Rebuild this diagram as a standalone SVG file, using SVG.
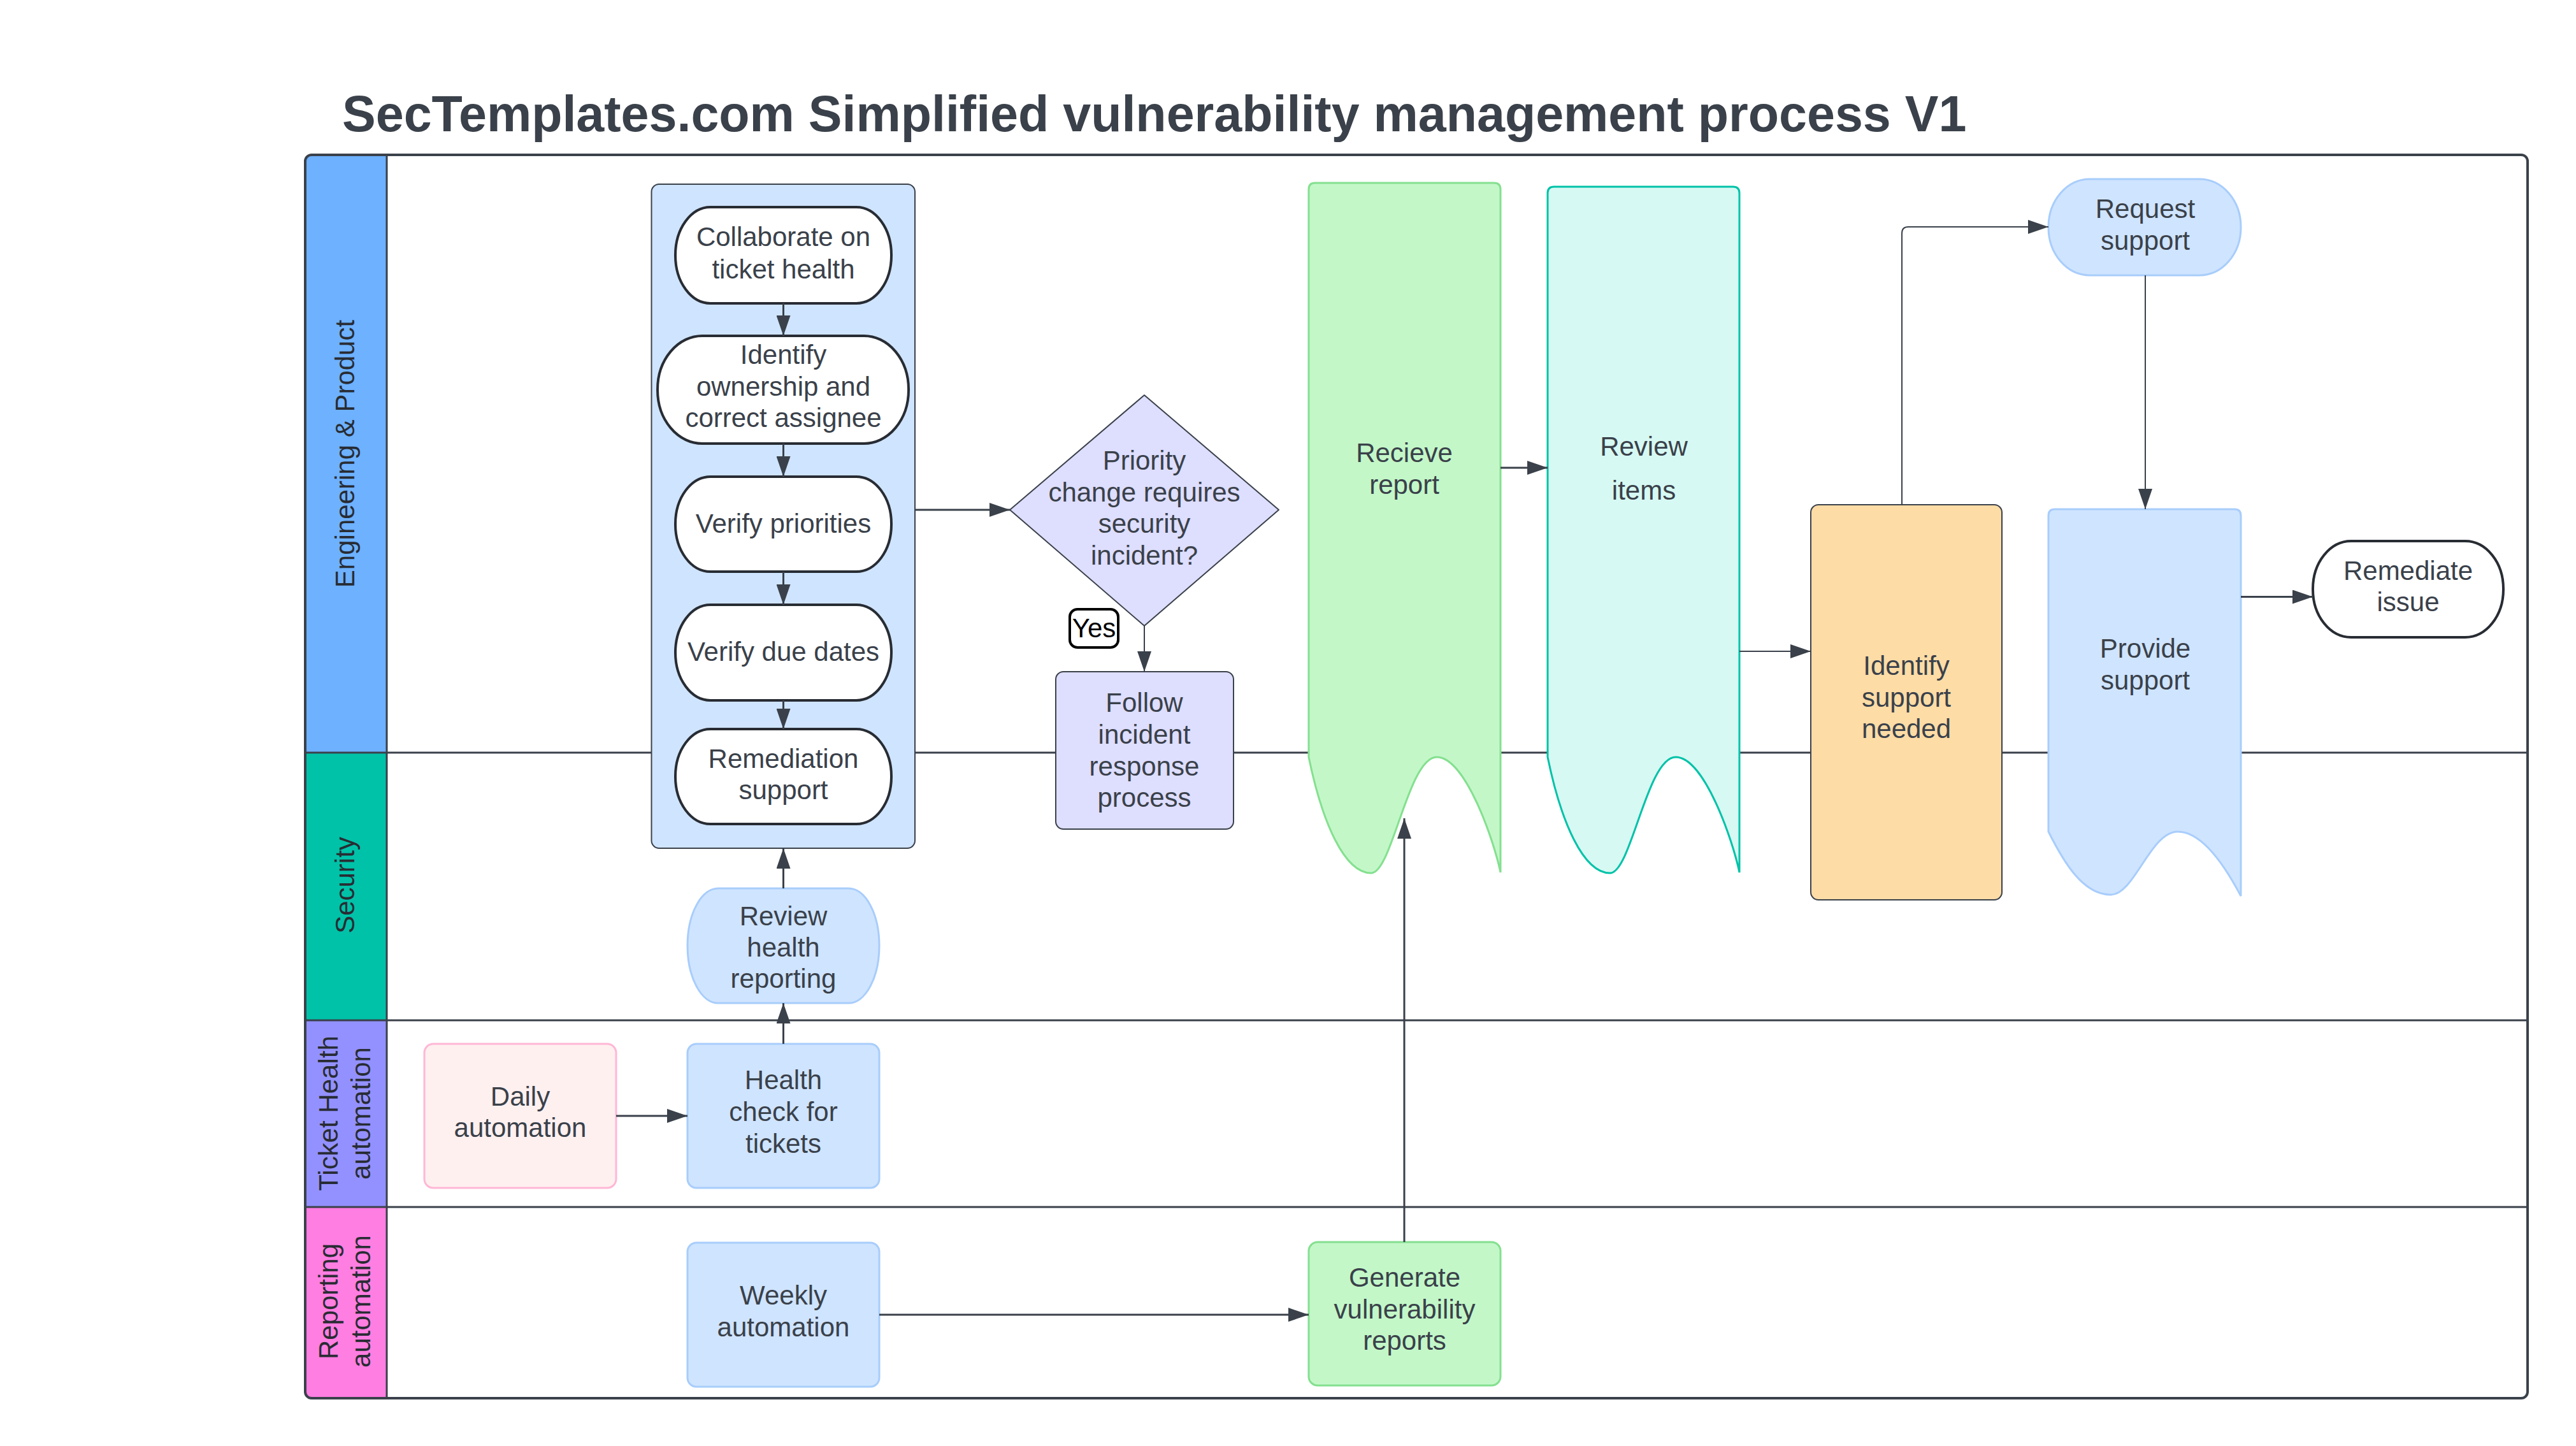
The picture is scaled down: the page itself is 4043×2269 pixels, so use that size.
<svg xmlns="http://www.w3.org/2000/svg" width="4043" height="2269" viewBox="0 0 4043 2269">
<style>
.t{font-family:"Liberation Sans",Arial,sans-serif;font-size:42px;fill:#3a414a;text-anchor:middle}
.lane{font-family:"Liberation Sans",Arial,sans-serif;font-size:42px;fill:#282c33;text-anchor:middle}
.title{font-family:"Liberation Sans",Arial,sans-serif;font-size:79px;font-weight:bold;fill:#3a414a}
.c{fill:none;stroke:#3a414a;stroke-width:3}
.ct{fill:none;stroke:#3a414a;stroke-width:2}
.pill{fill:#ffffff;stroke:#282c33;stroke-width:4}
.lb{fill:#cfe4ff;stroke:#a8cdfb;stroke-width:3}
.sep{stroke:#3a414a;stroke-width:3}
</style>
<defs>
<marker id="ah" markerUnits="userSpaceOnUse" markerWidth="32" markerHeight="22" refX="32" refY="11" orient="auto">
<path d="M0,0 L32,11 L0,22 Z" fill="#3a414a"/>
</marker>
<clipPath id="poolclip"><rect x="479" y="243" width="3488" height="1951" rx="10"/></clipPath>
</defs>
<rect width="4043" height="2269" fill="#ffffff"/>
<text class="title" x="537" y="206">SecTemplates.com Simplified vulnerability management process V1</text>

<g id="pool">
<g clip-path="url(#poolclip)">
<rect x="479" y="243" width="128" height="938" fill="#6db1ff"/>
<rect x="479" y="1181" width="128" height="420" fill="#00c2a8"/>
<rect x="479" y="1601" width="128" height="293" fill="#9391ff"/>
<rect x="479" y="1894" width="128" height="300" fill="#ff7ee2"/>
</g>
<line class="sep" x1="479" y1="1181" x2="3967" y2="1181"/>
<line class="sep" x1="479" y1="1601" x2="3967" y2="1601"/>
<line class="sep" x1="479" y1="1894" x2="3967" y2="1894"/>
<line class="sep" x1="607" y1="243" x2="607" y2="2194"/>
<rect x="479" y="243" width="3488" height="1951" rx="10" fill="none" stroke="#3a414a" stroke-width="4"/>
<text class="lane" transform="translate(556,712) rotate(-90)">Engineering &amp; Product</text>
<text class="lane" transform="translate(556,1389) rotate(-90)">Security</text>
<text class="lane" transform="translate(530,1747) rotate(-90)">Ticket Health</text>
<text class="lane" transform="translate(581,1747) rotate(-90)">automation</text>
<text class="lane" transform="translate(530,2042) rotate(-90)">Reporting</text>
<text class="lane" transform="translate(581,2042) rotate(-90)">automation</text>
</g>

<g id="container">
<rect x="1022.5" y="289" width="413.5" height="1042" rx="12" fill="#cfe4ff" stroke="#3a414a" stroke-width="2"/>
</g>
<g id="collaborate">
<rect class="pill" x="1060" y="325" width="339" height="151" rx="55" ry="75"/>
<text class="t" x="1229.5" y="386">Collaborate on</text>
<text class="t" x="1229.5" y="437">ticket health</text>
</g>
<g id="identify-owner">
<rect class="pill" x="1032" y="527" width="394" height="169" rx="70" ry="84"/>
<text class="t" x="1229.5" y="571">Identify</text>
<text class="t" x="1229.5" y="621">ownership and</text>
<text class="t" x="1229.5" y="670">correct assignee</text>
</g>
<g id="verify-priorities">
<rect class="pill" x="1060" y="748" width="339" height="149" rx="55" ry="74"/>
<text class="t" x="1229.5" y="836">Verify priorities</text>
</g>
<g id="verify-due">
<rect class="pill" x="1060" y="949" width="339" height="150" rx="55" ry="75"/>
<text class="t" x="1229.5" y="1037">Verify due dates</text>
</g>
<g id="remediation-support">
<rect class="pill" x="1060" y="1144" width="339" height="149" rx="55" ry="74"/>
<text class="t" x="1229.5" y="1205">Remediation</text>
<text class="t" x="1229.5" y="1254">support</text>
</g>

<g id="decision">
<path d="M1796,620 L2007,800 L1796,982 L1585,800 Z" fill="#dedeff" stroke="#3a414a" stroke-width="2" stroke-linejoin="round"/>
<text class="t" x="1796" y="737">Priority</text>
<text class="t" x="1796" y="787">change requires</text>
<text class="t" x="1796" y="836">security</text>
<text class="t" x="1796" y="886">incident?</text>
</g>
<g id="follow">
<rect x="1657" y="1054" width="279" height="247" rx="12" fill="#dedeff" stroke="#3a414a" stroke-width="2"/>
<text class="t" x="1796" y="1117">Follow</text>
<text class="t" x="1796" y="1167">incident</text>
<text class="t" x="1796" y="1217">response</text>
<text class="t" x="1796" y="1266">process</text>
</g>

<g id="recieve">
<path d="M2054,297 Q2054,287 2064,287 H2345 Q2355,287 2355,297 V1369 C2345,1320 2300,1188 2255,1188 C2210,1188 2185,1370 2152,1370 C2110,1370 2075,1290 2054,1188 Z" fill="#c3f7c8" stroke="#84e08f" stroke-width="3"/>
<text class="t" x="2204" y="725">Recieve</text>
<text class="t" x="2204" y="775">report</text>
</g>
<g id="review-items">
<path d="M2429,303 Q2429,293 2439,293 H2720 Q2730,293 2730,303 V1369 C2720,1320 2675,1188 2630,1188 C2585,1188 2560,1370 2527,1370 C2485,1370 2450,1290 2429,1188 Z" fill="#d7f9f3" stroke="#00c2a8" stroke-width="3"/>
<text class="t" x="2580" y="715">Review</text>
<text class="t" x="2580" y="784">items</text>
</g>
<g id="identify-support">
<rect x="2842" y="792" width="300" height="620" rx="12" fill="#fddca6" stroke="#3a414a" stroke-width="2"/>
<text class="t" x="2992" y="1059">Identify</text>
<text class="t" x="2992" y="1109">support</text>
<text class="t" x="2992" y="1158">needed</text>
</g>
<g id="request-support">
<rect class="lb" x="3215" y="281" width="302" height="151" rx="65" ry="75"/>
<text class="t" x="3367" y="342">Request</text>
<text class="t" x="3367" y="392">support</text>
</g>
<g id="provide-support">
<path d="M3215,809 Q3215,799 3225,799 H3507 Q3517,799 3517,809 V1406 C3490,1355 3455,1305 3418,1305 C3375,1305 3350,1404 3313,1404 C3270,1404 3240,1355 3215,1305 Z" fill="#cfe4ff" stroke="#a8cdfb" stroke-width="3"/>
<text class="t" x="3367" y="1032">Provide</text>
<text class="t" x="3367" y="1082">support</text>
</g>
<g id="remediate">
<rect class="pill" x="3630" y="849" width="299" height="151" rx="60" ry="75"/>
<text class="t" x="3779.5" y="910">Remediate</text>
<text class="t" x="3779.5" y="959">issue</text>
</g>

<g id="review-health">
<rect class="lb" x="1079" y="1394" width="301" height="180" rx="48" ry="90"/>
<text class="t" x="1229.5" y="1452">Review</text>
<text class="t" x="1229.5" y="1501">health</text>
<text class="t" x="1229.5" y="1550">reporting</text>
</g>
<g id="daily">
<rect x="666" y="1638" width="301" height="226" rx="14" fill="#fff0f0" stroke="#ffb7d5" stroke-width="3"/>
<text class="t" x="816.5" y="1735">Daily</text>
<text class="t" x="816.5" y="1784">automation</text>
</g>
<g id="health-check">
<rect class="lb" x="1079" y="1638" width="301" height="226" rx="14"/>
<text class="t" x="1229.5" y="1709">Health</text>
<text class="t" x="1229.5" y="1759">check for</text>
<text class="t" x="1229.5" y="1809">tickets</text>
</g>
<g id="weekly">
<rect class="lb" x="1079" y="1950" width="301" height="226" rx="14"/>
<text class="t" x="1229.5" y="2047">Weekly</text>
<text class="t" x="1229.5" y="2097">automation</text>
</g>
<g id="generate">
<rect x="2054" y="1949" width="301" height="225" rx="14" fill="#c3f7c8" stroke="#84e08f" stroke-width="3"/>
<text class="t" x="2204.5" y="2019">Generate</text>
<text class="t" x="2204.5" y="2069">vulnerability</text>
<text class="t" x="2204.5" y="2118">reports</text>
</g>

<g id="connectors">
<line class="c" x1="1229.5" y1="476" x2="1229.5" y2="527" marker-end="url(#ah)"/>
<line class="c" x1="1229.5" y1="696" x2="1229.5" y2="748" marker-end="url(#ah)"/>
<line class="c" x1="1229.5" y1="897" x2="1229.5" y2="949" marker-end="url(#ah)"/>
<line class="c" x1="1229.5" y1="1099" x2="1229.5" y2="1144" marker-end="url(#ah)"/>
<line class="c" x1="1436" y1="800" x2="1585" y2="800" marker-end="url(#ah)"/>
<line class="ct" x1="1796" y1="982" x2="1796" y2="1054" marker-end="url(#ah)"/>
<line class="c" x1="2355" y1="734" x2="2429" y2="734" marker-end="url(#ah)"/>
<line class="ct" x1="2730" y1="1022" x2="2842" y2="1022" stroke-width="1.5" marker-end="url(#ah)"/>
<path class="ct" d="M2985,792 V366 Q2985,356 2995,356 H3215" stroke-width="1.5" marker-end="url(#ah)"/>
<line class="ct" x1="3367" y1="432" x2="3367" y2="799" stroke-width="1.5" marker-end="url(#ah)"/>
<line class="c" x1="3517" y1="936.5" x2="3630" y2="936.5" marker-end="url(#ah)"/>
<line class="c" x1="1229.5" y1="1394" x2="1229.5" y2="1331" marker-end="url(#ah)"/>
<line class="c" x1="1229.5" y1="1638" x2="1229.5" y2="1574" marker-end="url(#ah)"/>
<line class="c" x1="967" y1="1751" x2="1079" y2="1751" marker-end="url(#ah)"/>
<line class="c" x1="1380" y1="2063" x2="2054" y2="2063" marker-end="url(#ah)"/>
<line class="c" x1="2204" y1="1949" x2="2204" y2="1284" stroke-width="2.5" marker-end="url(#ah)"/>
</g>

<g id="yes-label">
<rect x="1679" y="956" width="76" height="60" rx="12" fill="#ffffff" stroke="#000000" stroke-width="4"/>
<text class="t" x="1717" y="1000" style="fill:#000000">Yes</text>
</g>
</svg>
